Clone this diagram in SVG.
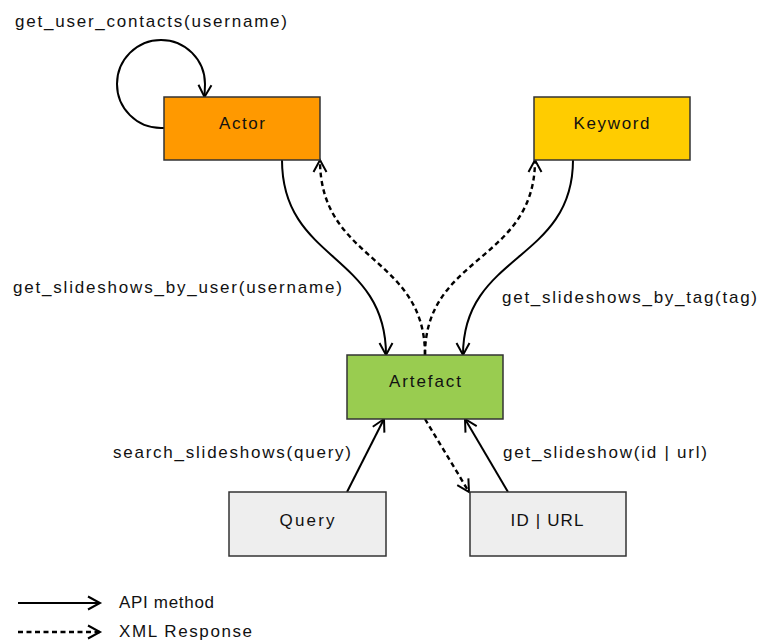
<svg xmlns="http://www.w3.org/2000/svg" width="760" height="643" viewBox="0 0 760 643">
  <style>
    .box { stroke: #333333; stroke-width: 1.5; }
    .label { font-family: "Liberation Sans", Arial, sans-serif; font-size: 17px; fill: #111111; }
    .mid { text-anchor: middle; }
    .edge { fill: none; stroke: #000000; stroke-width: 2; }
    .api { marker-end: url(#open-arrow); }
    .xml { stroke-width: 2.4; stroke-dasharray: 5 3.5; marker-end: url(#open-arrow); }
  </style>
  <defs>
    <marker id="open-arrow" viewBox="0 0 12 14" refX="12" refY="7" markerWidth="12" markerHeight="14" markerUnits="userSpaceOnUse" orient="auto" overflow="visible">
      <path d="M0,0.5 L12,7 L0,13.5" fill="none" stroke="#000000" stroke-width="2" stroke-dasharray="none"/>
    </marker>
  </defs>

  <rect width="760" height="643" fill="#ffffff"/>

  <!-- connectors -->
  <g id="connectors">
    <!-- self loop on Actor -->
    <path class="edge api" d="M164,128 L161,128 A44,44 0 1 1 205,84 L204.5,97"/>
    <text class="label" x="15" y="26.5" textLength="272" lengthAdjust="spacing">get_user_contacts(username)</text>

    <!-- Actor -> Artefact -->
    <path class="edge api" d="M282,160 C282,262 386,253 386,355"/>
    <text class="label" x="13" y="292.5" textLength="329" lengthAdjust="spacing">get_slideshows_by_user(username)</text>
    <!-- Artefact -> Actor (response) -->
    <path class="edge xml" d="M425,355 C425,255 320,262 320,160"/>

    <!-- Keyword -> Artefact -->
    <path class="edge api" d="M573,160 C573,262 463,253 463,355"/>
    <text class="label" x="502" y="302.5" textLength="255" lengthAdjust="spacing">get_slideshows_by_tag(tag)</text>
    <!-- Artefact -> Keyword (response) -->
    <path class="edge xml" d="M425,355 C425,255 535,262 535,160"/>

    <!-- Query -> Artefact -->
    <path class="edge api" d="M347,492 L384,419"/>
    <text class="label" x="113" y="457.5" textLength="238" lengthAdjust="spacing">search_slideshows(query)</text>

    <!-- ID | URL -> Artefact -->
    <path class="edge api" d="M508,492 L465,419"/>
    <text class="label" x="503" y="457.5" textLength="204" lengthAdjust="spacing">get_slideshow(id | url)</text>
    <!-- Artefact -> ID | URL (response) -->
    <path class="edge xml" d="M425,419 L469,492"/>
  </g>

  <!-- nodes -->
  <g id="actor">
    <rect class="box" x="164" y="97" width="156" height="63" fill="#ff9900"/>
    <text class="label mid" x="242" y="129" textLength="46" lengthAdjust="spacing">Actor</text>
  </g>
  <g id="keyword">
    <rect class="box" x="534" y="97" width="156" height="63" fill="#ffcc00"/>
    <text class="label mid" x="611.5" y="129" textLength="76" lengthAdjust="spacing">Keyword</text>
  </g>
  <g id="artefact">
    <rect class="box" x="347" y="355" width="156" height="64" fill="#99cc50"/>
    <text class="label mid" x="425" y="386.5" textLength="72" lengthAdjust="spacing">Artefact</text>
  </g>
  <g id="query">
    <rect class="box" x="229" y="492" width="157" height="64" fill="#eeeeee"/>
    <text class="label mid" x="307" y="526" textLength="55" lengthAdjust="spacing">Query</text>
  </g>
  <g id="id-url">
    <rect class="box" x="470" y="492" width="156" height="64" fill="#eeeeee"/>
    <text class="label mid" x="547" y="526" textLength="73" lengthAdjust="spacing">ID | URL</text>
  </g>

  <!-- legend -->
  <g id="legend">
    <path class="edge api" d="M18,603 L100,603"/>
    <text class="label" x="119" y="608" textLength="95" lengthAdjust="spacing">API method</text>
    <path class="edge xml" d="M18,632 L100,632"/>
    <text class="label" x="119" y="637" textLength="133" lengthAdjust="spacing">XML Response</text>
  </g>
</svg>
